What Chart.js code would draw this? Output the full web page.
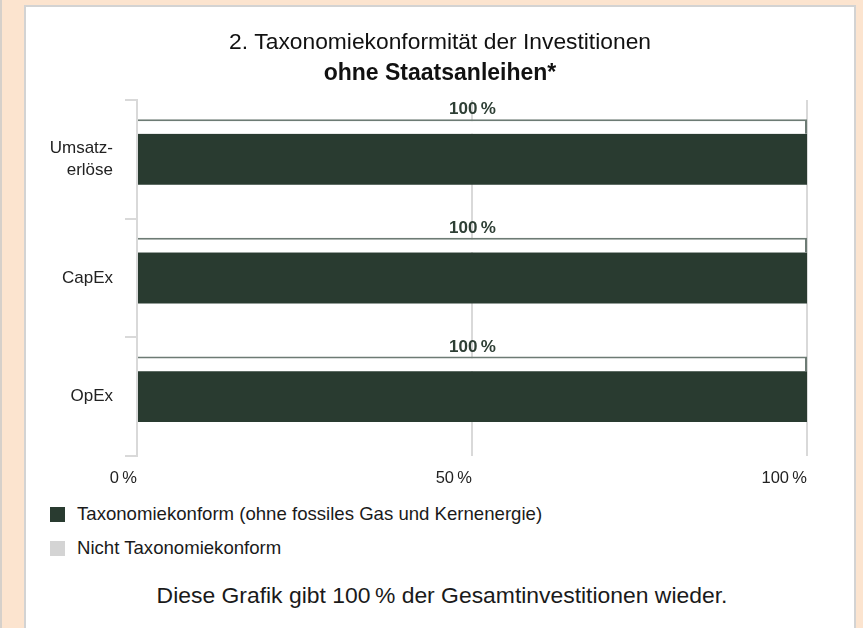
<!DOCTYPE html>
<html>
<head>
<meta charset="utf-8">
<script src="https://cdn.jsdelivr.net/npm/chart.js@4.4.1/dist/chart.umd.min.js"></script>
<style>
html,body{margin:0;padding:0;}
body{width:863px;height:628px;background:#fce4cf;position:relative;overflow:hidden;font-family:"Liberation Sans",Arial,sans-serif;color:#1a1a1a;}
#edge{position:absolute;left:0;top:0;width:2px;height:628px;background:#d6d0ca;}
#panel{position:absolute;left:24px;top:5px;width:832px;height:640px;background:#fff;border:2px solid #d3d3d3;border-bottom:none;box-sizing:border-box;}
#wrap{position:absolute;left:0;top:0;width:828px;height:489px;}
#legend{position:absolute;left:24px;top:490px;}
.item{display:flex;align-items:center;height:34px;font-size:18.6px;color:#1a1a1a;}
.sw{width:15px;height:15px;margin-right:12px;flex:none;}
#note{position:absolute;left:0;width:832px;top:575px;text-align:center;font-size:22.9px;line-height:27px;color:#1a1a1a;}
</style>
</head>
<body>
<div id="edge"></div>
<div id="panel">
  <div id="wrap"><canvas id="c" width="828" height="489"></canvas></div>
  <div id="legend"></div>
  <div id="note">Diese Grafik gibt 100&#8201;% der Gesamtinvestitionen wieder.</div>
</div>
<script>
// ---- data ----
const categories = [['Umsatz-', 'erlöse'], 'CapEx', 'OpEx'];
const totalValues = [100, 100, 100];          // outlined total bar
const konformValues = [100, 100, 100];        // Taxonomiekonform (ohne fossiles Gas und Kernenergie)
const nichtKonformValues = [0, 0, 0];         // Nicht Taxonomiekonform
const xTickValues = [0, 50, 100];
const seriesNames = ['Taxonomiekonform (ohne fossiles Gas und Kernenergie)', 'Nicht Taxonomiekonform'];
const titleText = '2. Taxonomiekonformität der Investitionen';
const subtitleText = 'ohne Staatsanleihen*';

const FONT = '"Liberation Sans", Arial, sans-serif';
const fmt = v => v + '\u2009%';

const valueLabels = {
  id: 'valueLabels',
  afterDatasetsDraw(chart) {
    const meta = chart.getDatasetMeta(0);
    const ctx = chart.ctx;
    ctx.save();
    ctx.font = 'bold 17px ' + FONT;
    ctx.fillStyle = '#2e3f35';
    ctx.textAlign = 'center';
    ctx.textBaseline = 'alphabetic';
    meta.data.forEach((el, i) => {
      const p = el.getProps(['x', 'y', 'base', 'height'], true);
      ctx.fillText(fmt(totalValues[i]), (p.x + p.base) / 2, p.y - p.height / 2 - 5);
    });
    ctx.restore();
  }
};

const chart = new Chart(document.getElementById('c'), {
  type: 'bar',
  data: {
    labels: categories,
    datasets: [
      { label: 'Gesamt', showInLegend: false, data: totalValues, stack: 'gesamt',
        backgroundColor: '#ffffff', borderColor: '#6d7b74',
        borderWidth: { top: 2, right: 2, bottom: 0, left: 0 }, borderSkipped: false,
        barPercentage: 0.44, categoryPercentage: 0.832 },
      { label: seriesNames[0], data: konformValues, stack: 'konform',
        backgroundColor: '#293b30', borderWidth: 0,
        barPercentage: 1.545, categoryPercentage: 0.832 },
      { label: seriesNames[1], data: nichtKonformValues, stack: 'nicht',
        backgroundColor: '#d4d4d4', borderWidth: 0,
        barPercentage: 1.545, categoryPercentage: 0.832 }
    ]
  },
  options: {
    indexAxis: 'y',
    responsive: false,
    animation: false,
    devicePixelRatio: 1,
    layout: { padding: 0 },
    plugins: {
      legend: { display: false },
      tooltip: { enabled: false },
      title: { display: true, text: titleText, color: '#111',
        font: { family: FONT, size: 22.8, weight: 'normal' }, padding: { top: 22.5, bottom: 3 } },
      subtitle: { display: true, text: subtitleText, color: '#111',
        font: { family: FONT, size: 23, weight: 'bold' }, padding: { top: 0, bottom: 12.5 } }
    },
    scales: {
      x: {
        min: 0, max: 100, position: 'bottom',
        afterBuildTicks: s => { s.ticks = xTickValues.map(v => ({ value: v })); },
        afterFit: s => { s.height = 40; },
        grid: { color: '#d9d9d9', lineWidth: 2, drawTicks: false },
        border: { display: false },
        ticks: { padding: 13, align: 'end', color: '#222', font: { family: FONT, size: 16.5 },
          callback: v => fmt(v) }
      },
      y: {
        afterFit: s => { s.width = 111; },
        grid: { offset: true, drawOnChartArea: false, drawTicks: true, tickLength: 12, color: '#d9d9d9', lineWidth: 2 },
        border: { display: true, color: '#d9d9d9', width: 2 },
        ticks: { padding: 12, color: '#222', font: { family: FONT, size: 17, lineHeight: 1.3 } }
      },
      yRight: {
        type: 'category', position: 'right', offset: true,
        afterFit: s => { s.width = 47; },
        grid: { display: false }, border: { display: false }, ticks: { display: false }
      }
    }
  },
  plugins: [valueLabels]
});

// HTML legend built from the chart's datasets
const legendEl = document.getElementById('legend');
chart.data.datasets.forEach(ds => {
  if (ds.showInLegend === false) return;
  const row = document.createElement('div');
  row.className = 'item';
  const sw = document.createElement('span');
  sw.className = 'sw';
  sw.style.background = ds.backgroundColor;
  const tx = document.createElement('span');
  tx.textContent = ds.label;
  row.appendChild(sw); row.appendChild(tx);
  legendEl.appendChild(row);
});
</script>
</body>
</html>
